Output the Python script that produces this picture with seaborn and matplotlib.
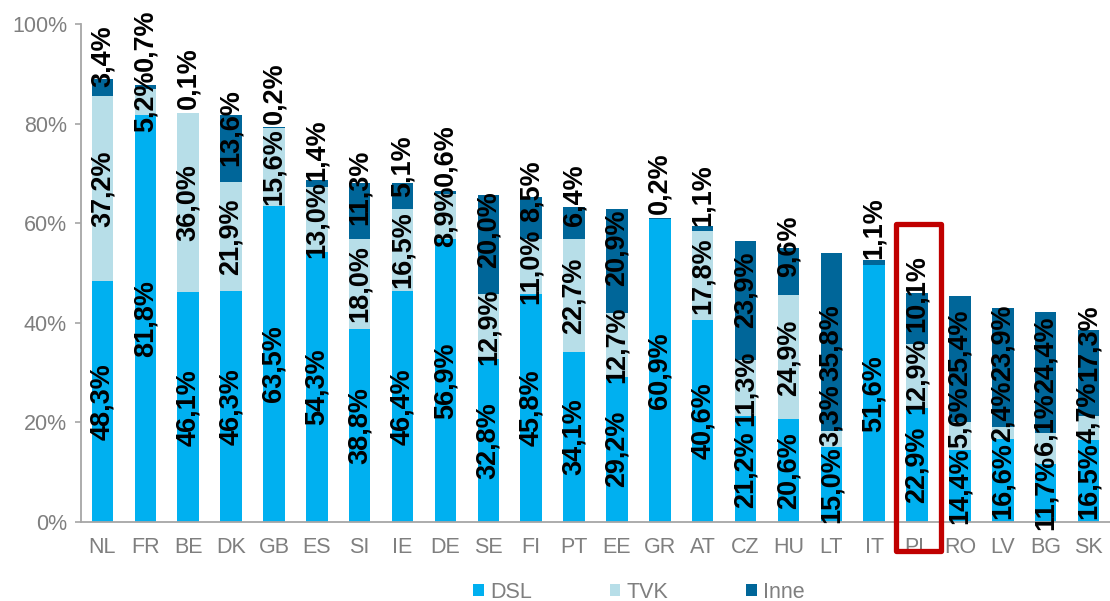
import numpy as np
import pandas as pd
import matplotlib
matplotlib.use("Agg")
import matplotlib.pyplot as plt
import seaborn as sns
from matplotlib.patches import Patch, Rectangle

# ---- data ----
countries = ["NL", "FR", "BE", "DK", "GB", "ES", "SI", "IE", "DE", "SE", "FI", "PT",
             "EE", "GR", "AT", "CZ", "HU", "LT", "IT", "PL", "RO", "LV", "BG", "SK"]
dsl = [48.3, 81.8, 46.1, 46.3, 63.5, 54.3, 38.8, 46.4, 56.9, 32.8, 45.8, 34.1,
       29.2, 60.9, 40.6, 21.2, 20.6, 15.0, 51.6, 22.9, 14.4, 16.6, 11.7, 16.5]
tvk = [37.2, 5.2, 36.0, 21.9, 15.6, 13.0, 18.0, 16.5, 8.9, 12.9, 11.0, 22.7,
       12.7, 0.0, 17.8, 11.3, 24.9, 3.3, 0.0, 12.9, 5.6, 2.4, 6.1, 4.7]
inne = [3.4, 0.7, 0.1, 13.6, 0.2, 1.4, 11.3, 5.1, 0.6, 20.0, 8.5, 6.4,
        20.9, 0.2, 1.1, 23.9, 9.6, 35.8, 1.1, 10.1, 25.4, 23.9, 24.4, 17.3]
series_names = ["DSL", "TVK", "Inne"]
highlight = "PL"

colors = {"DSL": "#00B0F0", "TVK": "#B7DEE8", "Inne": "#006699"}
gray = "#7F7F7F"

sns.set_theme(style="white")
plt.rcParams["font.family"] = ["Liberation Sans", "DejaVu Sans"]

df = pd.DataFrame({"country": countries, "DSL": dsl, "TVK": tvk, "Inne": inne})
df["c1"] = df["DSL"]
df["c2"] = df["DSL"] + df["TVK"]
df["c3"] = df["c2"] + df["Inne"]

fig = plt.figure(figsize=(11.10, 6.01), dpi=100)
ax = fig.add_axes([81/1110, 79/601, 1029/1110, 498/601])

for col, name in [("c3", "Inne"), ("c2", "TVK"), ("c1", "DSL")]:
    sns.barplot(data=df, x="country", y=col, order=countries, color=colors[name],
                saturation=1, width=0.5, linewidth=0, ax=ax, zorder=2)

ax.set_xlim(-0.49, 23.4)
ax.set_ylim(0, 100)
ax.set_xlabel("")
ax.set_ylabel("")
ax.set_yticks(np.arange(0, 101, 20))
ax.set_yticklabels([f"{v}%" for v in range(0, 101, 20)])
ax.set_xticks(range(len(countries)))
ax.set_xticklabels(countries)
ax.set_xticks(np.arange(-0.5, len(countries), 1), minor=True)
ax.tick_params(axis="x", which="major", length=0, pad=11, labelsize=15.5, labelcolor=gray)
ax.tick_params(axis="x", which="minor", length=5, width=1.2, color="#A6A6A6", direction="out")
ax.tick_params(axis="y", which="major", length=4, width=1.2, color="#A6A6A6",
               direction="out", pad=6, labelsize=15.5, labelcolor=gray, left=True)
for s in ["top", "right"]:
    ax.spines[s].set_visible(False)
for s in ["left", "bottom"]:
    ax.spines[s].set_color("#A6A6A6")
    ax.spines[s].set_linewidth(1.3)

# ---- value labels ----
fs_px = 27.0
px_per_unit = 498 / 100.0
fontsize_pt = fs_px * 72 / 100


def label_len(txt):
    w = 0
    for ch in txt:
        if ch.isdigit():
            w += 0.556
        elif ch == ",":
            w += 0.278
        elif ch == "%":
            w += 0.889
    return w * fs_px / px_per_unit


def fmt(v):
    return f"{v:.1f}%".replace(".", ",")


def put(i, y, txt):
    ax.text(i, y, txt, rotation=90, ha="center", va="center", rotation_mode="anchor",
            fontsize=fontsize_pt, fontweight="bold", color="black", zorder=5)


for i, c in enumerate(countries):
    d, t, o = dsl[i], tvk[i], inne[i]
    total = d + t + o
    # DSL
    txt = fmt(d)
    L = label_len(txt)
    yc = d / 2
    put(i, yc, txt)
    prev_top = yc + L / 2
    # TVK
    if t > 0:
        txt = fmt(t)
        L = label_len(txt)
        yc = max(d + t / 2, prev_top + L / 2)
        put(i, yc, txt)
        prev_top = yc + L / 2
    # Inne
    if o > 0:
        txt = fmt(o)
        L = label_len(txt)
        yc = max(total + 7 - 0.7 * o, prev_top + L / 2)
        put(i, yc, txt)

# ---- highlight box ----
hi = countries.index(highlight)
htotal = dsl[hi] + tvk[hi] + inne[hi]
rect = Rectangle((hi - 0.5, -5.8), 1.06, htotal + 19.7, fill=False,
                 edgecolor="#C00000", linewidth=3.8, joinstyle="round",
                 clip_on=False, zorder=6)
ax.add_patch(rect)

# ---- legend ----
handles = [Patch(facecolor=colors[n], edgecolor="none") for n in series_names]
leg = fig.legend(handles, series_names, loc="center", bbox_to_anchor=(639/1110, 1 - 592/601),
                 ncol=3, frameon=False, handlelength=0.5, handleheight=0.5,
                 handletextpad=0.3, columnspacing=3.6, fontsize=15.5)
for t in leg.get_texts():
    t.set_color(gray)

fig.savefig("out.png", dpi=100)
